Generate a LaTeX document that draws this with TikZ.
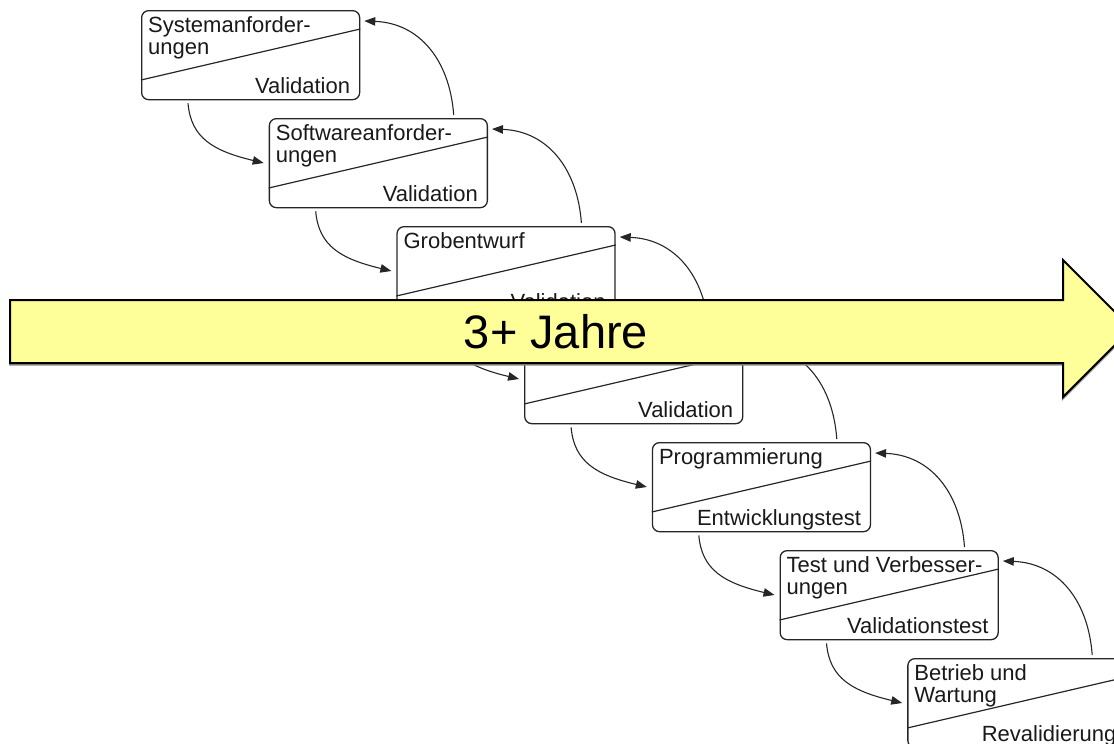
\documentclass[tikz,border=0pt]{standalone}
\usepackage{fontspec}
\setmainfont{Liberation Sans}
\usetikzlibrary{calc,arrows.meta}
\definecolor{spanfill}{RGB}{255,255,153}
\tikzset{
  stage/.style={draw=black!85, line width=1.3pt, rounded corners=7pt,
    minimum width=218pt, minimum height=89pt, inner sep=0pt, anchor=north west},
  split/.style={draw=black!85, line width=1.2pt},
  flow/.style={draw=black!85, line width=1.1pt, -{Triangle[length=11pt,width=8.5pt]}},
  lbl/.style={inner sep=0pt, font=\fontsize{22}{22}\selectfont, text=black!90},
  head/.style={lbl, anchor=base west},
  foot/.style={lbl, anchor=base east},
  spanbar/.style={draw=black, line width=2pt, fill=spanfill, line join=miter},
  spanshadow/.style={draw=black!45, line width=2pt},
}
\newcommand{\twolines}[2]{\begin{tabular}[t]{@{}l@{}}#1\\#2\end{tabular}}

\begin{document}
\begin{tikzpicture}[x=1pt,y=-1pt]
\useasboundingbox (0,0) rectangle (1114,744);
\clip (0,0) rectangle (1114,744);

% the seven stages, each split by a diagonal
\foreach \i in {1,...,7} {
  \node[stage] (b\i) at ({141+127.7*(\i-1)}, {10+108*(\i-1)}) {};
  \draw[split] ($(b\i.north west)+(0,70)$) -- ($(b\i.north east)+(0,19)$);
}

% upper and lower labels of each stage
\node[head] (h1) at ($(b1.north west)+(7,22.5)$) {\twolines{Systemanforder-}{ungen}};
\node[foot] (f1) at ($(b1.south east)+(-10,-7)$) {Validation};
\node[head] (h2) at ($(b2.north west)+(7,22.5)$) {\twolines{Softwareanforder-}{ungen}};
\node[foot] (f2) at ($(b2.south east)+(-10,-7)$) {Validation};
\node[head] (h3) at ($(b3.north west)+(7,22.5)$) {Grobentwurf};
\node[foot] (f3) at ($(b3.south east)+(-10,-7)$) {Validation};
\node[foot] (f4) at ($(b4.south east)+(-10,-7)$) {Validation};
\node[head] (h5) at ($(b5.north west)+(7,22.5)$) {Programmierung};
\node[foot] (f5) at ($(b5.south east)+(-10,-7)$) {Entwicklungstest};
\node[head] (h6) at ($(b6.north west)+(7,22.5)$) {\twolines{Test und Verbesser-}{ungen}};
\node[foot] (f6) at ($(b6.south east)+(-10,-7)$) {Validationstest};
\node[head] (h7) at ($(b7.north west)+(7,22.5)$) {\twolines{Betrieb und}{Wartung}};
\node[foot] (f7) at ($(b7.south east)+(-10,-7)$) {Revalidierung};

% forward flow down the cascade and feedback to the previous stage
\foreach \i/\j in {1/2,2/3,3/4,4/5,5/6,6/7} {
  \coordinate (ds\i) at ($(b\i.south west)+(47,3)$);
  \coordinate (de\i) at ($(b\j.north west)+(-5,45)$);
  \coordinate (dc\i) at ($(ds\i)+(3,35)$);
  \coordinate (dd\i) at ($(de\i)+(-50,-12)$);
  \draw[flow] (ds\i) .. controls (dc\i) and (dd\i) .. (de\i);
  \coordinate (us\i) at ($(b\j.north west)+(185,-3)$);
  \coordinate (ue\i) at ($(b\i.north east)+(4,11)$);
  \coordinate (uc\i) at ($(us\i)+(-4,-55)$);
  \coordinate (ud\i) at ($(ue\i)+(55,2)$);
  \draw[flow] (us\i) .. controls (uc\i) and (ud\i) .. (ue\i);
}

% the duration arrow across the cascade
\draw[spanshadow, shift={(0,1.5)}] (10,300) -- (1063,300) -- (1063,260) -- (1131.5,328.5)
  -- (1063,397) -- (1063,363) -- (10,363) -- cycle;
\draw[spanbar] (10,300) -- (1063,300) -- (1063,260) -- (1131.5,328.5)
  -- (1063,397) -- (1063,363) -- (10,363) -- cycle;
\node[inner sep=0pt, anchor=base, font=\fontsize{47}{47}\selectfont] (span) at (556,348) {3+ Jahre};
\end{tikzpicture}
\end{document}
